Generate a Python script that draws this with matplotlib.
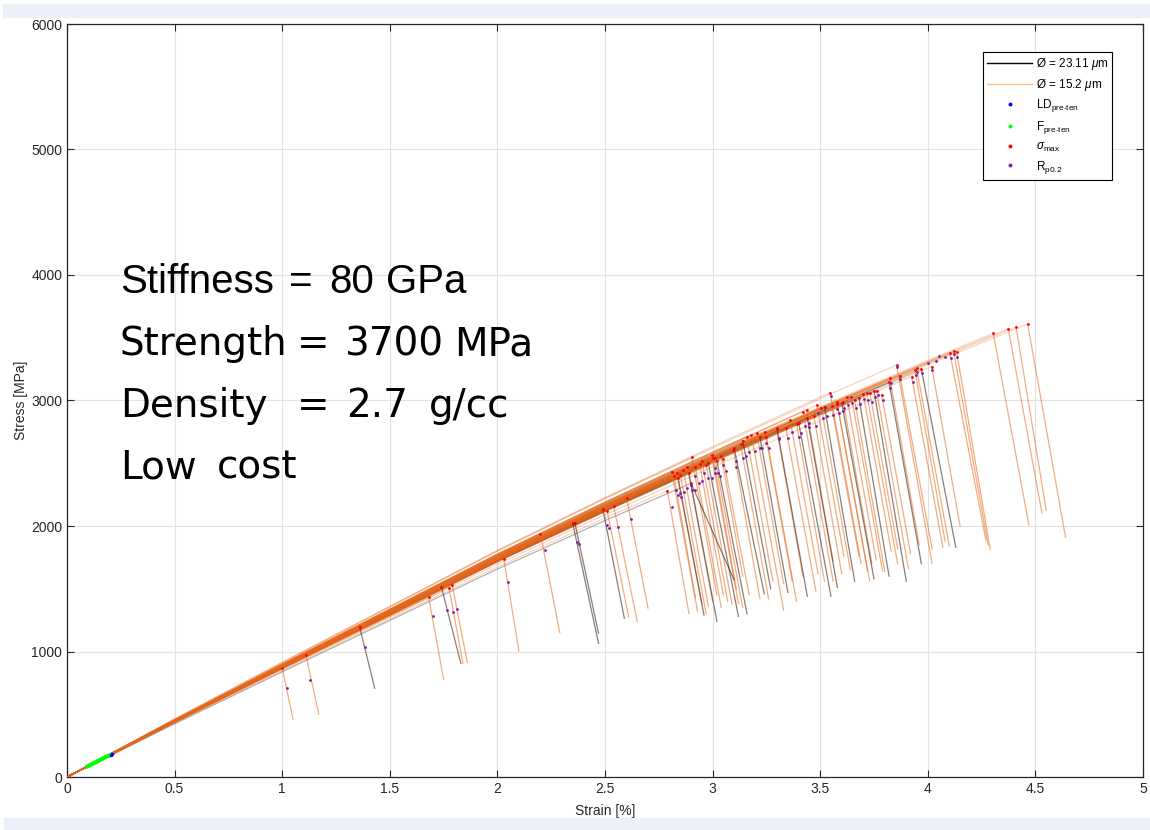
import matplotlib.pyplot as plt
import numpy as np
from matplotlib.lines import Line2D
from matplotlib.patches import Rectangle

plt.rcParams['font.family'] = ['Liberation Sans', 'DejaVu Sans']
plt.rcParams['mathtext.fontset'] = 'custom'
plt.rcParams['mathtext.rm'] = 'Liberation Sans'
plt.rcParams['mathtext.it'] = 'Liberation Sans:italic'

# centre of the loading band, strain [%] vs stress [MPa]
master_strain = [0, 0.5, 1.0, 1.5, 2.0, 2.5, 3.0, 3.5, 4.0, 4.5]
master_stress = [0, 445, 880, 1310, 1740, 2145, 2535, 2915, 3280, 3630]

# thin wires, 15.2 um: failure point, Rp0.2 point, end of the drop
thin_fail_strain = [1.00, 1.11, 1.68, 1.775, 1.79, 2.03, 2.20, 2.51, 2.54, 2.60,
                    2.79, 2.81, 2.833, 2.864, 2.883, 2.903, 2.94, 2.995, 3.003, 3.04,
                    3.097, 3.158, 3.205, 3.243, 3.297, 3.36, 3.39, 3.437, 3.484, 3.546,
                    3.553, 3.577, 3.623, 3.70, 3.731, 3.762, 3.824, 3.855, 3.925, 3.948,
                    4.018, 4.103, 4.134, 4.304, 4.374, 4.41, 4.464, 2.82, 2.85, 2.92,
                    2.97, 3.01, 3.05, 3.18, 3.25, 3.34, 3.42, 3.506, 3.607, 3.645,
                    3.716, 3.786, 3.87, 3.94, 4.12, 2.95, 3.13, 3.47, 3.66, 3.58]
thin_fail_stress = [871, 972, 1437, 1508, 1530, 1735, 1936, 2122, 2159, 2225,
                    2281, 2433, 2420, 2446, 2472, 2546, 2494, 2566, 2539, 2560,
                    2606, 2712, 2738, 2751, 2778, 2845, 2813, 2924, 2964, 3062,
                    2956, 2990, 3030, 3052, 3057, 3078, 3177, 3283, 3190, 3256,
                    3270, 3376, 3389, 3535, 3572, 3588, 3610, 2400, 2410, 2468,
                    2486, 2544, 2534, 2725, 2712, 2783, 2911, 2938, 2990, 3030,
                    3056, 3044, 3198, 3243, 3394, 2520, 2650, 2880, 3000, 2970]
thin_rp_strain = [1.02, 1.13, 1.70, 1.795, 1.81, 2.05, 2.22, 2.52, 2.56, 2.62,
                  2.81, 2.83, 2.85, 2.88, 2.90, 2.92, 2.95, 3.01, 3.01, 3.05,
                  3.11, 3.17, 3.22, 3.25, 3.31, 3.37, 3.40, 3.45, 3.49, 3.549,
                  3.56, 3.58, 3.63, 3.705, 3.74, 3.77, 3.83, 3.857, 3.93, 3.95,
                  4.02, 4.107, 4.138, 4.04, 4.08, 4.00, 4.05, 2.84, 2.865, 2.935,
                  2.98, 3.025, 3.06, 3.195, 3.26, 3.35, 3.43, 3.515, 3.612, 3.65,
                  3.722, 3.79, 3.873, 3.945, 4.123, 2.96, 3.14, 3.48, 3.666, 3.587]
thin_rp_stress = [709, 775, 1283, 1317, 1335, 1550, 1809, 1986, 1992, 2056,
                  2149, 2290, 2260, 2300, 2330, 2400, 2360, 2420, 2460, 2486,
                  2472, 2592, 2620, 2658, 2700, 2751, 2712, 2820, 2898, 3036,
                  2884, 2930, 2964, 3009, 2990, 3040, 3137, 3265, 3150, 3229,
                  3240, 3340, 3350, 3318, 3347, 3300, 3355, 2250, 2270, 2340,
                  2380, 2420, 2440, 2600, 2620, 2700, 2800, 2860, 2940, 2980,
                  3000, 3000, 3170, 3200, 3370, 2420, 2540, 2797, 2940, 2900]
thin_end_strain = [1.05, 1.17, 1.75, 1.84, 1.86, 2.10, 2.29, 2.61, 2.65, 2.70,
                   2.89, 2.93, 2.95, 2.98, 3.00, 3.02, 3.05, 3.12, 3.11, 3.14,
                   3.22, 3.28, 3.33, 3.37, 3.42, 3.49, 3.52, 3.56, 3.61, 3.69,
                   3.68, 3.72, 3.76, 3.83, 3.86, 3.91, 3.96, 4.02, 4.07, 4.10,
                   4.15, 4.27, 4.29, 4.47, 4.53, 4.55, 4.64, 2.92, 2.97, 3.04,
                   3.09, 3.14, 3.17, 3.33, 3.39, 3.48, 3.56, 3.64, 3.74, 3.79,
                   3.86, 3.92, 4.02, 4.08, 4.28, 3.07, 3.26, 3.60, 3.80, 3.73]
thin_end_stress = [462, 500, 778, 905, 914, 1004, 1150, 1277, 1237, 1345,
                   1304, 1320, 1380, 1360, 1400, 1450, 1450, 1380, 1500, 1600,
                   1420, 1560, 1540, 1560, 1600, 1620, 1560, 1720, 1760, 1700,
                   1760, 1640, 1730, 1800, 1820, 1660, 1850, 1700, 1830, 1840,
                   2000, 1888, 1814, 2008, 2106, 2127, 1910, 1430, 1300, 1350,
                   1380, 1350, 1450, 1330, 1400, 1480, 1560, 1650, 1700, 1640,
                   1700, 1780, 1820, 1880, 1850, 1400, 1420, 1620, 1640, 1560]

# thick wires, 23.11 um
thick_fail_strain = [1.36, 1.74, 2.35, 2.36, 2.49, 2.90, 2.84, 2.89, 2.98, 3.02,
                     3.14, 3.22, 3.30, 3.40, 3.52, 3.60, 3.68, 3.75, 3.82, 3.97, 3.10, 3.44]
thick_fail_stress = [1193, 1514, 2021, 2025, 2135, 2340, 2380, 2420, 2500, 2520,
                     2680, 2707, 2770, 2823, 2950, 2980, 3020, 3077, 3145, 3250, 2620, 2860]
thick_rp_strain = [1.385, 1.765, 2.37, 2.38, 2.51, 2.92, 2.855, 2.905, 2.995, 3.035,
                   3.155, 3.23, 3.31, 3.41, 3.53, 3.606, 3.686, 3.755, 3.825, 3.973, 3.11, 3.448]
thick_rp_stress = [1033, 1331, 1875, 1857, 2008, 2290, 2230, 2290, 2380, 2400,
                   2560, 2620, 2690, 2740, 2880, 2920, 2970, 3030, 3100, 3220, 2520, 2790]
thick_end_strain = [1.43, 1.83, 2.47, 2.47, 2.59, 3.10, 2.96, 3.02, 3.12, 3.16,
                    3.27, 3.35, 3.44, 3.55, 3.66, 3.75, 3.82, 3.90, 3.97, 4.13, 3.24, 3.58]
thick_end_stress = [707, 906, 1065, 1145, 1264, 1570, 1290, 1240, 1280, 1300,
                    1500, 1470, 1440, 1440, 1560, 1580, 1600, 1560, 1700, 1830, 1460, 1510]

# pre-tension region and load-drop at pre-tension
pre_strain = [0.088, 0.12, 0.15, 0.18, 0.21]
pre_stress = [78, 106, 133, 160, 180]
ld_strain = [0.205, 0.21]
ld_stress = [178, 183]

info_words = [["Stiffness", "=", "80", "GPa"],
              ["Strength", "=", "3700", "MPa"],
              ["Density", "=", "2.7", "g/cc"],
              ["Low", "cost"]]

ORANGE = '#E8691C'
W, H = 1150, 830


def draw_loading(ax, fail_e, fail_s, color, alpha, z):
    for fe, fs in zip(fail_e, fail_s):
        # scale the band centre so the curve ends at its failure point
        k = fs / np.interp(fe, master_strain, master_stress)
        xs = [m for m in master_strain if m < fe]
        ys = [k * s for m, s in zip(master_strain, master_stress) if m < fe]
        ax.plot(xs + [fe], ys + [fs], color=color, alpha=alpha, lw=0.9, zorder=z)


def draw_drops(ax, fail_e, fail_s, end_e, end_s, color, alpha, z):
    for fe, fs, ee, es in zip(fail_e, fail_s, end_e, end_s):
        ax.plot([fe, ee], [fs, es], color=color, alpha=alpha, lw=0.9, zorder=z)


fig = plt.figure(figsize=(W / 100, H / 100), dpi=100)
fig.patches.append(Rectangle((3 / W, 1 - 17 / H), 1, 13 / H, transform=fig.transFigure,
                             color='#ECF1F9', zorder=0))
fig.patches.append(Rectangle((4 / W, 0), 1, 12 / H, transform=fig.transFigure,
                             color='#ECF1F9', zorder=0))

ax = fig.add_axes([67 / W, 1 - 777 / H, 1076 / W, 753 / H])

draw_loading(ax, thick_fail_strain, thick_fail_stress, 'black', 0.3, 2)
draw_loading(ax, thin_fail_strain, thin_fail_stress, ORANGE, 0.28, 3)
draw_drops(ax, thin_fail_strain, thin_fail_stress, thin_end_strain, thin_end_stress,
           ORANGE, 0.55, 3)
draw_drops(ax, thick_fail_strain, thick_fail_stress, thick_end_strain, thick_end_stress,
           '#3A2A20', 0.6, 3)

ax.plot(pre_strain, pre_stress, color='#00FF00', lw=3, solid_capstyle='butt', zorder=4)
ax.plot(ld_strain, ld_stress, 'o', color='#0000FF', ms=1.5, zorder=5)
ax.plot(thin_fail_strain + thick_fail_strain, thin_fail_stress + thick_fail_stress,
        'o', color='#FF0000', ms=2.0, mew=0, zorder=5)
ax.plot(thin_rp_strain + thick_rp_strain, thin_rp_stress + thick_rp_stress,
        'o', color='#7E1E9C', ms=2.0, mew=0, zorder=5)

ax.set_xlim(0, 5)
ax.set_ylim(0, 6000)
ax.set_xticks(np.arange(0, 5.01, 0.5))
ax.set_xticklabels(['0', '0.5', '1', '1.5', '2', '2.5', '3', '3.5', '4', '4.5', '5'])
ax.set_yticks(np.arange(0, 6001, 1000))
ax.grid(True, color='#E2E2E2', lw=0.8)
ax.set_axisbelow(True)
ax.tick_params(direction='in', top=True, right=True, length=5, width=0.8,
               labelsize=10, colors='#262626', labelcolor='#262626')
for sp in ax.spines.values():
    sp.set_color('#262626')
    sp.set_linewidth(0.9)
ax.set_xlabel('Strain [%]', fontsize=10, color='#262626', labelpad=6)
ax.set_ylabel('Stress [MPa]', fontsize=10, color='#262626', labelpad=2)

handles = [
    Line2D([], [], color='black', lw=1),
    Line2D([], [], color='#FDBE85', lw=1),
    Line2D([], [], ls='none', marker='o', ms=1.8, color='#0000FF'),
    Line2D([], [], ls='none', marker='o', ms=1.8, color='#00FF00'),
    Line2D([], [], ls='none', marker='o', ms=1.8, color='#FF0000'),
    Line2D([], [], ls='none', marker='o', ms=1.8, color='#7E1E9C'),
]
labels = ['Ø = 23.11 $\\mu$m', 'Ø = 15.2 $\\mu$m', 'LD$_{\\rm pre\u2010ten}$',
          'F$_{\\rm pre\u2010ten}$', '$\\sigma_{\\rm max}$', 'R$_{\\rm p0.2}$']
leg = ax.legend(handles, labels, loc='upper right', bbox_to_anchor=(0.9715, 0.963),
                borderaxespad=0, fontsize=8.5, handlelength=3.8, handletextpad=0.3,
                borderpad=0.35, fancybox=False, framealpha=1, edgecolor='black',
                labelspacing=0.4)
leg.get_frame().set_linewidth(0.8)

# big text block on the slide, word by word as laid out on the slide
word_x = [[120, 289, 329, 386],
          [120, 297, 344, 454],
          [120, 297, 346, 429],
          [120, 217]]
baselines = [293, 355, 417, 478]
for i, (words, xs, yb) in enumerate(zip(info_words, word_x, baselines)):
    for w, x in zip(words, xs):
        if i == 0:
            fig.text(x / W, 1 - yb / H, w, family='Liberation Sans', fontsize=29,
                     va='baseline', ha='left', color='black', zorder=10)
        else:
            fig.text(x / W, 1 - yb / H, w, family='DejaVu Sans', fontsize=28,
                     va='baseline', ha='left', color='black', zorder=10)

fig.savefig('out.png', dpi=100)
